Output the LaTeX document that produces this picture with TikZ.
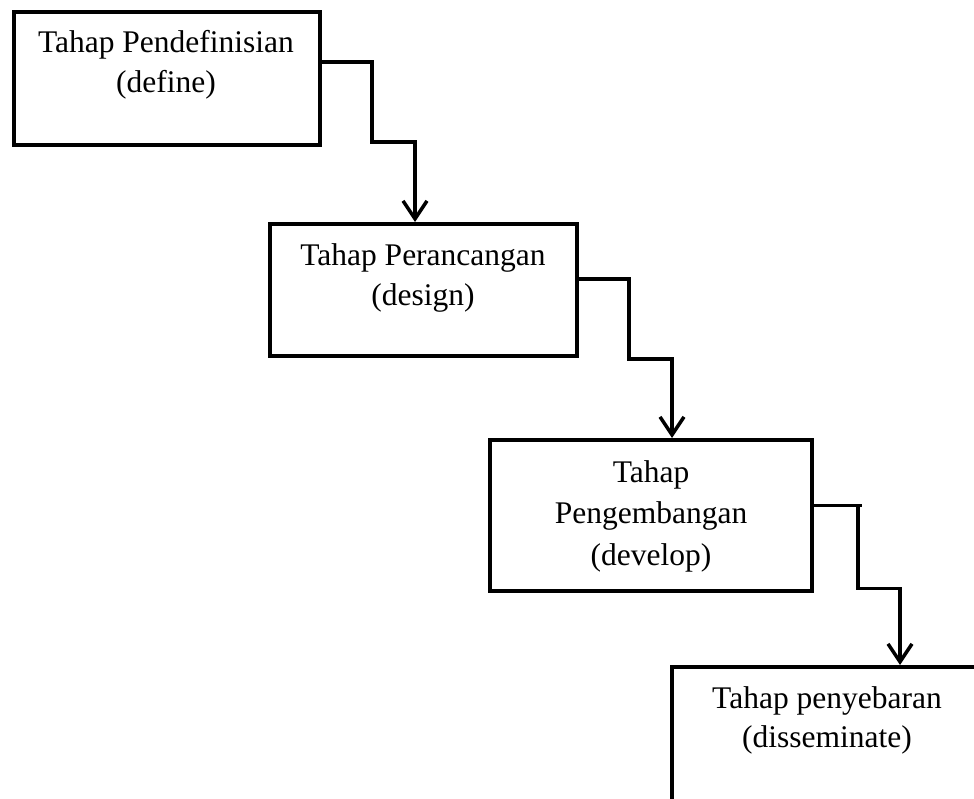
\documentclass[tikz,border=0pt]{standalone}
\usepackage{fontspec}
\setmainfont{Liberation Serif}
\usetikzlibrary{arrows.meta}
\begin{document}
\begin{tikzpicture}[x=1pt,y=-1pt,
  stage/.style={draw, line width=4pt, inner sep=0pt},
  lbl/.style={anchor=base, inner sep=0pt, font=\fontsize{31.5}{40}\selectfont},
  conn/.style={line width=3.5pt, -{Straight Barb[length=18pt,width=24pt]}},
  thinseg/.style={line width=2.5pt},
  ]
\useasboundingbox (0,0) rectangle (974,798);
\clip (0,0) rectangle (974,798);
\fill[white] (0,0) rectangle (974,798);
% boxes
\node[stage, minimum width=306.5pt, minimum height=133.5pt] (b1) at (166.75,78.25) {};
\node[stage, minimum width=307pt, minimum height=132pt] (b2) at (423.5,290) {};
\node[stage, minimum width=322pt, minimum height=151pt] (b3) at (651,515.5) {};
\node[stage, minimum width=310pt, minimum height=173pt] (b4) at (827,753.5) {};
% labels
\node[lbl] (t1a) at (166,52) {Tahap Pendefinisian};
\node[lbl] (t1b) at (166,92) {(define)};
\node[lbl] (t2a) at (423,265) {Tahap Perancangan};
\node[lbl] (t2b) at (423,305) {(design)};
\node[lbl] (t3a) at (651,482) {Tahap};
\node[lbl] (t3b) at (651,523) {Pengembangan};
\node[lbl] (t3c) at (651,565) {(develop)};
\node[lbl] (t4a) at (827,708) {Tahap penyebaran};
\node[lbl] (t4b) at (827,747) {(disseminate)};
% connector bends
\coordinate (k1) at (372,62);
\coordinate (k2) at (415,142);
\coordinate (k3) at (629,279);
\coordinate (k4) at (672,359);
\coordinate (k5) at (858,505.5);
\coordinate (k5e) at (862,505.5);
\coordinate (k6) at (900,588.5);
% connectors
\draw[conn] (b1.east |- k1) -- (k1) |- (k2) -- (k2 |- b2.north);
\draw[conn] (b2.east |- k3) -- (k3) |- (k4) -- (k4 |- b3.north);
\draw[thinseg] (b3.east |- k5) -- (k5e);
\draw[conn] (k5) |- (k6) -- (k6 |- b4.north);
\end{tikzpicture}
\end{document}
